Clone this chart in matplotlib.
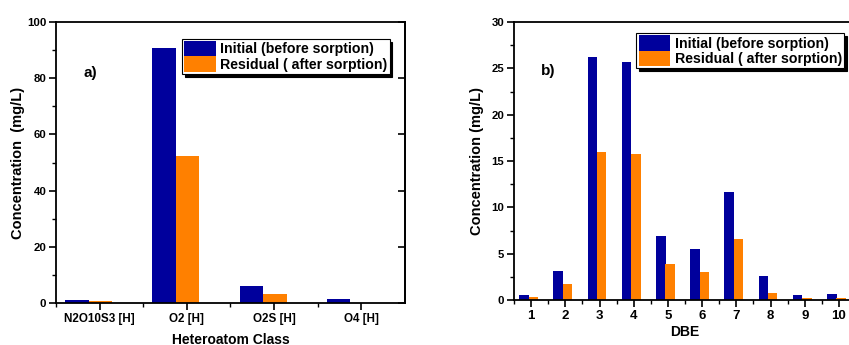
import matplotlib
matplotlib.use("Agg")
import matplotlib.pyplot as plt
import numpy as np
from matplotlib.ticker import MultipleLocator, FixedLocator

plt.rcParams['font.family'] = ['Liberation Sans', 'DejaVu Sans']
plt.rcParams['font.weight'] = 'bold'

# Panel a data
classes = ["N2O10S3 [H]", "O2 [H]", "O2S [H]", "O4 [H]"]
initial_a = [0.95, 90.6, 6.2, 1.3]
residual_a = [0.7, 52.3, 3.3, 0.0]

# Panel b data
dbe = [1, 2, 3, 4, 5, 6, 7, 8, 9, 10]
initial_b = [0.55, 3.1, 26.2, 25.7, 6.9, 5.5, 11.7, 2.6, 0.5, 0.6]
residual_b = [0.32, 1.73, 16.0, 15.8, 3.9, 3.06, 6.55, 0.78, 0.18, 0.2]

labels = ["Initial (before sorption)", "Residual ( after sorption)"]
BLUE = "#00009C"
ORANGE = "#FF8000"

fig = plt.figure(figsize=(8.49, 3.45), dpi=100)
axa = fig.add_axes([56/849, 42/345, 349/849, 281/345])
axb = fig.add_axes([514/849, 45/345, 342/849, 278/345])


def style(ax, ymajor, yminor, ylim, xlim, xcenters, xls, yls):
    ax.set_ylim(*ylim)
    ax.set_xlim(*xlim)
    ax.yaxis.set_major_locator(MultipleLocator(ymajor))
    ax.yaxis.set_minor_locator(MultipleLocator(yminor))
    ax.xaxis.set_major_locator(FixedLocator(xcenters))
    ax.xaxis.set_minor_locator(FixedLocator([c + 0.5 for c in xcenters[:-1]] + [xcenters[0] - 0.5]))
    ax.tick_params(axis='both', which='major', direction='out', length=5, width=1.2, pad=2)
    ax.tick_params(axis='x', which='major', labelsize=xls)
    ax.tick_params(axis='y', which='major', labelsize=yls)
    ax.tick_params(axis='both', which='minor', direction='out', length=3, width=1.0)
    for sp in ax.spines.values():
        sp.set_linewidth(1.3)


def add_legend(ax, handles, anchor):
    leg = ax.legend(handles, labels, loc='upper left', bbox_to_anchor=anchor,
                    borderaxespad=0, frameon=True, fancybox=False,
                    handlelength=2.25, handleheight=1.3, labelspacing=0.0,
                    handletextpad=0.3, borderpad=0.15,
                    prop={'weight': 'bold', 'size': 10.2},
                    shadow={'color': 'black', 'alpha': 1.0})
    leg.get_frame().set_edgecolor('black')
    leg.get_frame().set_linewidth(0.8)
    leg.get_frame().set_alpha(1.0)
    return leg


# Panel a
xa = np.arange(1, len(classes) + 1)
w = 0.268
ba1 = axa.bar(xa - 0.26, initial_a, w, color=BLUE)
ba2 = axa.bar(xa + 0.008, residual_a, w, color=ORANGE)
style(axa, 20, 10, (0, 100), (0.5, 4.5), list(xa), 8.4, 8.2)
axa.set_xticks(xa)
axa.set_xticklabels(classes, fontweight='bold')
axa.set_xlabel("Heteroatom Class", fontsize=10, fontweight='bold')
axa.set_ylabel("Concentration  (mg/L)", fontsize=10.5, fontweight='bold')
axa.yaxis.set_label_coords(-0.09, 0.5)
axa.xaxis.set_label_coords(0.5, -0.105)
axa.text(0.097, 0.818, "a)", transform=axa.transAxes, fontsize=11,
         fontweight='bold', ha='center', va='center')
# inward ticks on the right spine
sec = axa.secondary_yaxis('right')
sec.yaxis.set_major_locator(MultipleLocator(20))
sec.tick_params(axis='y', which='major', direction='in', length=5, width=1.2,
                labelright=False)
sec.tick_params(axis='y', which='minor', right=False)
sec.spines['right'].set_linewidth(1.3)
add_legend(axa, [ba1, ba2], (0.361, 0.94))

# Panel b
xb = np.array(dbe)
wb = 0.28
bb1 = axb.bar(xb - 0.21, initial_b, wb, color=BLUE)
bb2 = axb.bar(xb + 0.064, residual_b, wb, color=ORANGE)
style(axb, 5, 2.5, (0, 30), (0.5, 10.5), list(xb), 9.5, 8.2)
axb.set_xticks(xb)
axb.set_xticklabels([str(d) for d in dbe], fontweight='bold')
axb.set_xlabel("DBE", fontsize=10, fontweight='bold')
axb.set_ylabel("Concentration (mg/L)", fontsize=10.5, fontweight='bold')
axb.yaxis.set_label_coords(-0.088, 0.5)
axb.xaxis.set_label_coords(0.5, -0.09)
axb.text(0.099, 0.824, "b)", transform=axb.transAxes, fontsize=11,
         fontweight='bold', ha='center', va='center')
add_legend(axb, [bb1, bb2], (0.358, 0.96))

for ax in (axa, axb):
    for lab in ax.get_xticklabels() + ax.get_yticklabels():
        lab.set_fontweight('bold')

fig.savefig("out.png", dpi=100)
